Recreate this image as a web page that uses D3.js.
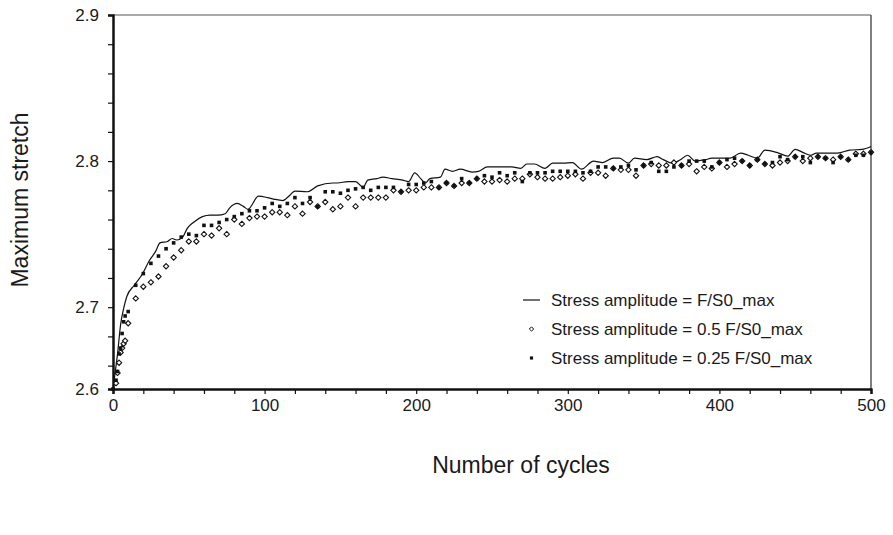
<!DOCTYPE html>
<html>
<head>
<meta charset="utf-8">
<script src="https://cdn.jsdelivr.net/npm/d3@7/dist/d3.min.js"></script>
<style>
  html, body { margin: 0; padding: 0; background: #fff; }
  svg { display: block; }
  text { font-family: "Liberation Sans", Arial, sans-serif; fill: #1a1a1a; }
</style>
</head>
<body>
<svg id="chart" width="893" height="535"></svg>
<script>
// ---------------- data ----------------
const xDomain = [0, 500];
const yDomain = [2.644, 2.9];           // axis bottom (shown as "2.6") to top
const xMajorTicks = [0, 100, 200, 300, 400, 500];
const xMinorTicks = [20, 40, 60, 80, 120, 140, 160, 180, 220, 240, 260, 280, 320, 340, 360, 380, 420, 440, 460, 480];
const yMajorTicks = [2.644, 2.7, 2.8, 2.9];
const yMinorTicks = [2.66, 2.68, 2.72, 2.74, 2.76, 2.78, 2.82, 2.84, 2.86, 2.88];

const seriesNames = [
  "Stress amplitude = F/S0_max",
  "Stress amplitude = 0.5 F/S0_max",
  "Stress amplitude = 0.25 F/S0_max"
];

// Series 1: solid line (F/S0_max)
const lineCycles = [0, 1, 3, 5, 7, 9, 14, 19, 24, 28, 31, 36, 39, 42, 46, 49, 53, 59, 64, 69, 74, 77, 82, 86, 89,
  96, 102, 106, 112, 117, 120, 128, 135, 145, 148, 155, 160, 165, 168, 174, 178, 184, 191, 195, 199, 203, 206, 209,
  216, 219, 224, 229, 237, 241, 247, 253, 263, 269, 273, 278, 285, 290, 297, 303, 309, 317, 323, 330, 334, 340,
  344, 352, 359, 363, 369, 374, 379, 384, 391, 395, 407, 414, 419, 425, 430, 439, 445, 450, 455, 460, 464, 478,
  486, 494, 500];
const lineValues = [2.644, 2.652, 2.668, 2.688, 2.699, 2.707, 2.715, 2.722, 2.732, 2.738, 2.744, 2.745, 2.747, 2.746,
  2.748, 2.754, 2.758, 2.762, 2.763, 2.763, 2.764, 2.768, 2.771, 2.769, 2.767,
  2.776, 2.775, 2.774, 2.773, 2.777, 2.7795, 2.779, 2.783, 2.785, 2.785, 2.786, 2.786, 2.782, 2.787, 2.788, 2.789,
  2.788, 2.787, 2.786, 2.792, 2.788, 2.785, 2.788,
  2.789, 2.7945, 2.793, 2.7945, 2.7925, 2.793, 2.796, 2.796, 2.796, 2.795, 2.798, 2.798, 2.795, 2.7986, 2.7986,
  2.799, 2.7945, 2.800, 2.799, 2.802, 2.802, 2.7986,
  2.802, 2.801, 2.803, 2.801, 2.7986, 2.8007, 2.804, 2.800, 2.801, 2.802, 2.802, 2.8055, 2.804, 2.802, 2.8075,
  2.8055, 2.8034, 2.808, 2.806, 2.804, 2.8055, 2.8055, 2.8075, 2.808, 2.810];

// Series 2: open diamonds (0.5 F/S0_max)
const diamondCycles = [2, 3, 4, 5, 6, 7, 8, 10, 15, 20, 25, 30, 35, 40, 45, 50, 55, 60, 65, 70, 75, 80, 85, 90, 95,
  100, 105, 110, 115, 120, 125, 130, 135, 140, 145, 150, 155, 160, 165, 170, 175, 180, 185, 190, 195,
  200, 205, 210, 215, 220, 225, 230, 235, 240, 245, 250, 255, 260, 265, 270, 275, 280, 285, 290, 295,
  300, 305, 310, 315, 320, 325, 330, 335, 340, 345, 350, 355, 360, 365, 370, 375, 380, 385, 390, 395,
  400, 405, 410, 415, 420, 425, 430, 435, 440, 445, 450, 455, 460, 465, 470, 475, 480, 485, 490, 495, 500];
const diamondValues = [2.648, 2.655, 2.662, 2.669, 2.672, 2.675, 2.677, 2.689, 2.706, 2.714, 2.717, 2.721, 2.728,
  2.734, 2.739, 2.745, 2.745, 2.750, 2.749, 2.754, 2.750, 2.760, 2.757, 2.761, 2.762,
  2.762, 2.765, 2.765, 2.763, 2.769, 2.764, 2.772, 2.769, 2.772, 2.767, 2.769, 2.775, 2.769, 2.775, 2.775, 2.775,
  2.775, 2.780, 2.779, 2.780,
  2.780, 2.782, 2.782, 2.782, 2.785, 2.783, 2.785, 2.785, 2.788, 2.786, 2.786, 2.787, 2.786, 2.788, 2.788, 2.791,
  2.789, 2.788, 2.788, 2.789,
  2.790, 2.791, 2.788, 2.792, 2.792, 2.790, 2.795, 2.794, 2.794, 2.790, 2.797, 2.798, 2.797, 2.797, 2.799, 2.797,
  2.798, 2.793, 2.796, 2.795,
  2.799, 2.796, 2.798, 2.800, 2.797, 2.801, 2.798, 2.797, 2.799, 2.800, 2.803, 2.800, 2.802, 2.803, 2.802, 2.801,
  2.803, 2.801, 2.805, 2.805, 2.806];

// Series 3: filled squares (0.25 F/S0_max)
const squareCycles = [0, 2, 3, 4, 5, 6, 7, 8, 10, 15, 20, 25, 30, 35, 40, 45, 50, 55, 60, 65, 70, 75, 80, 85, 90, 95,
  100, 105, 110, 115, 120, 125, 130, 135, 140, 145, 150, 155, 160, 165, 170, 175, 180, 185, 190, 195,
  200, 205, 210, 215, 220, 225, 230, 235, 240, 245, 250, 255, 260, 265, 270, 275, 280, 285, 290, 295,
  300, 305, 310, 315, 320, 325, 330, 335, 340, 345, 350, 355, 360, 365, 370, 375, 380, 385, 390, 395,
  400, 405, 410, 415, 420, 425, 430, 435, 440, 445, 450, 455, 460, 465, 470, 475, 480, 485, 490, 495, 500];
const squareValues = [2.644, 2.650, 2.656, 2.668, 2.672, 2.682, 2.690, 2.694, 2.697, 2.715, 2.723, 2.730, 2.735,
  2.740, 2.744, 2.748, 2.750, 2.749, 2.756, 2.756, 2.758, 2.760, 2.762, 2.764, 2.766, 2.766,
  2.768, 2.771, 2.769, 2.771, 2.775, 2.771, 2.775, 2.769, 2.779, 2.779, 2.778, 2.780, 2.781, 2.782, 2.780, 2.782,
  2.782, 2.782, 2.779, 2.784,
  2.784, 2.785, 2.786, 2.782, 2.785, 2.783, 2.788, 2.785, 2.788, 2.790, 2.789, 2.792, 2.790, 2.792, 2.786, 2.792,
  2.792, 2.792, 2.793, 2.793,
  2.793, 2.793, 2.792, 2.793, 2.796, 2.796, 2.795, 2.796, 2.797, 2.794, 2.797, 2.799, 2.793, 2.793, 2.796, 2.797,
  2.800, 2.800, 2.800, 2.796,
  2.799, 2.801, 2.802, 2.800, 2.797, 2.801, 2.798, 2.799, 2.803, 2.801, 2.803, 2.803, 2.799, 2.803, 2.802, 2.799,
  2.803, 2.801, 2.804, 2.804, 2.806];

const xTitle = "Number of cycles";
const yTitle = "Maximum stretch";

// ---------------- layout ----------------
const svg = d3.select("#chart");
const plot = { left: 113, right: 871, top: 15, bottom: 389 };
const x = d3.scaleLinear().domain(xDomain).range([plot.left, plot.right]);
const y = d3.scaleLinear().domain(yDomain).range([plot.bottom, plot.top]);

svg.append("rect").attr("width", 893).attr("height", 535).attr("fill", "#fff");

// frame (top / right)
svg.append("line").attr("x1", plot.left).attr("x2", plot.right).attr("y1", plot.top).attr("y2", plot.top)
  .attr("stroke", "#555").attr("stroke-width", 1);
svg.append("line").attr("x1", plot.right).attr("x2", plot.right).attr("y1", plot.top).attr("y2", plot.bottom)
  .attr("stroke", "#555").attr("stroke-width", 1.5);

// axes
const fmtY = d3.format(".1f");
const yAxisMajor = d3.axisLeft(y).tickValues(yMajorTicks).tickSize(5).tickPadding(9).tickFormat(fmtY);
const yAxisMinor = d3.axisLeft(y).tickValues(yMinorTicks).tickSize(5).tickFormat("");
const xAxisMajor = d3.axisBottom(x).tickValues(xMajorTicks).tickSize(5).tickPadding(5).tickFormat(d3.format("d"));
const xAxisMinor = d3.axisBottom(x).tickValues(xMinorTicks).tickSize(5).tickFormat("");

function styleAxis(g) {
  g.select(".domain").attr("stroke", "#111").attr("stroke-width", 2);
  g.selectAll(".tick line").attr("stroke", "#111").attr("stroke-width", 1.2);
  g.selectAll(".tick text").style("font-size", "17px").attr("fill", "#1a1a1a")
    .style("font-family", '"Liberation Sans", Arial, sans-serif');
}

svg.append("g").attr("transform", `translate(${plot.left},0)`).call(yAxisMinor).call(styleAxis);
svg.append("g").attr("transform", `translate(${plot.left},0)`).call(yAxisMajor).call(styleAxis);
svg.append("g").attr("transform", `translate(0,${plot.bottom})`).call(xAxisMinor).call(styleAxis);
svg.append("g").attr("transform", `translate(0,${plot.bottom})`).call(xAxisMajor).call(styleAxis);

// titles
svg.append("text").attr("transform", `translate(20,200) rotate(-90)`)
  .attr("text-anchor", "middle").attr("dominant-baseline", "central").style("font-size", "23px").text(yTitle);
svg.append("text").attr("x", 521).attr("y", 465)
  .attr("text-anchor", "middle").attr("dominant-baseline", "central").style("font-size", "23px").text(xTitle);

// series
const lineData = lineCycles.map((c, i) => ({ c, v: lineValues[i] }));
const diamondData = diamondCycles.map((c, i) => ({ c, v: diamondValues[i] }));
const squareData = squareCycles.map((c, i) => ({ c, v: squareValues[i] }));

const lineGen = d3.line().x(d => x(d.c)).y(d => y(d.v)).curve(d3.curveMonotoneX);
svg.append("path").datum(lineData).attr("d", lineGen)
  .attr("fill", "none").attr("stroke", "#111").attr("stroke-width", 1.2);

const diamondSym = d3.symbol().type(d3.symbolDiamond2).size(18);
const squareSym = d3.symbol().type(d3.symbolSquare).size(13);

svg.append("g").selectAll("path").data(diamondData).join("path")
  .attr("transform", d => `translate(${x(d.c)},${y(d.v)})`)
  .attr("d", diamondSym).attr("fill", "#fff").attr("stroke", "#111").attr("stroke-width", 1.1);

svg.append("g").selectAll("path").data(squareData).join("path")
  .attr("transform", d => `translate(${x(d.c)},${y(d.v)})`)
  .attr("d", squareSym).attr("fill", "#111");

// legend
const legend = svg.append("g").attr("transform", "translate(523,300)");
const rowGap = 29;
legend.append("line").attr("x1", 0).attr("x2", 17).attr("y1", 0).attr("y2", 0)
  .attr("stroke", "#111").attr("stroke-width", 1.2);
legend.append("path").attr("transform", `translate(8.5,${rowGap})`).attr("d", d3.symbol().type(d3.symbolDiamond2).size(12))
  .attr("fill", "#fff").attr("stroke", "#111").attr("stroke-width", 1);
legend.append("path").attr("transform", `translate(8.5,${rowGap * 2})`).attr("d", d3.symbol().type(d3.symbolSquare).size(10))
  .attr("fill", "#111");
legend.selectAll("text.lbl").data(seriesNames).join("text").attr("class", "lbl")
  .attr("x", 28).attr("y", (d, i) => i * rowGap).attr("dominant-baseline", "central")
  .style("font-size", "17px").text(d => d);
</script>
</body>
</html>
